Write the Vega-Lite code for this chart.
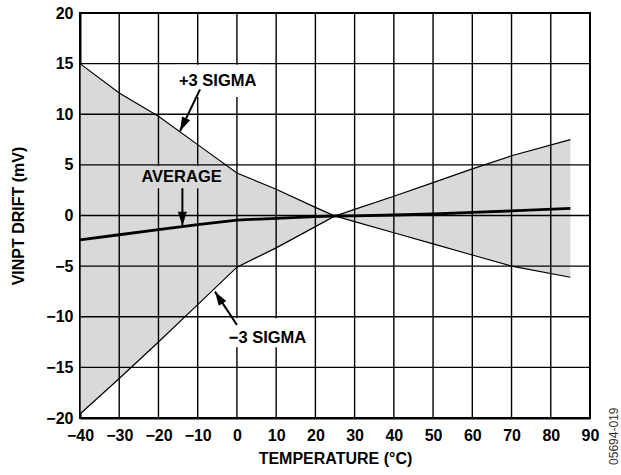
{
  "$schema": "https://vega.github.io/schema/vega-lite/v6.json",
  "width": 510,
  "height": 405,
  "autosize": {"type": "none"},
  "padding": {"left": 80, "top": 13, "right": 31, "bottom": 57},
  "background": "white",
  "config": {
    "view": {"stroke": "#000", "strokeWidth": 2},
    "font": "Liberation Sans",
    "axis": {
      "labelFont": "Liberation Sans",
      "labelFontWeight": "bold",
      "labelFontSize": 16,
      "labelColor": "#000",
      "titleFont": "Liberation Sans",
      "titleFontWeight": "bold",
      "titleFontSize": 16,
      "titleColor": "#000",
      "domainColor": "#000",
      "domainWidth": 2,
      "ticks": false,
      "grid": false,
      "labelFlush": false,
      "labelOverlap": false
    },
    "axisX": {"labelPadding": 9, "titlePadding": 7},
    "axisY": {"labelPadding": 7, "titlePadding": 19}
  },
  "datasets": {
    "series": [
      {"T": -40, "hi": 15.0, "lo": -19.6, "avg": -2.4},
      {"T": -30, "hi": 12.1, "lo": -16.1, "avg": -1.9},
      {"T": -20, "hi": 9.8, "lo": -12.5, "avg": -1.4},
      {"T": -10, "hi": 7.0, "lo": -8.8, "avg": -0.9},
      {"T": 0, "hi": 4.2, "lo": -5.1, "avg": -0.45},
      {"T": 10, "hi": 2.6, "lo": -3.2, "avg": -0.28},
      {"T": 20, "hi": 0.8, "lo": -1.1, "avg": -0.12},
      {"T": 25, "hi": -0.05, "lo": -0.05, "avg": -0.05},
      {"T": 30, "hi": 0.6, "lo": -0.6, "avg": -0.03},
      {"T": 40, "hi": 1.9, "lo": -1.7, "avg": 0.05},
      {"T": 50, "hi": 3.25, "lo": -2.8, "avg": 0.15},
      {"T": 60, "hi": 4.6, "lo": -3.9, "avg": 0.3},
      {"T": 70, "hi": 5.9, "lo": -5.0, "avg": 0.45},
      {"T": 85, "hi": 7.5, "lo": -6.1, "avg": 0.7}
    ],
    "xgrid": [{"g": -40}, {"g": -30}, {"g": -20}, {"g": -10}, {"g": 0}, {"g": 10}, {"g": 20}, {"g": 30}, {"g": 40}, {"g": 50}, {"g": 60}, {"g": 70}, {"g": 80}, {"g": 90}],
    "ygrid": [{"g": -20}, {"g": -15}, {"g": -10}, {"g": -5}, {"g": 0}, {"g": 5}, {"g": 10}, {"g": 15}, {"g": 20}],
    "boxes": [
      {"name": "+3 SIGMA", "x1": -15.8, "x2": 5.9, "y1": 14.9, "y2": 11.7},
      {"name": "AVERAGE", "x1": -25.5, "x2": -2.8, "y1": 4.9, "y2": 2.7},
      {"name": "−3 SIGMA", "x1": -3.0, "x2": 18.6, "y1": -10.15, "y2": -13.0}
    ],
    "labels": [
      {"name": "+3 SIGMA", "T": -4.9, "v": 13.3},
      {"name": "AVERAGE", "T": -14.1, "v": 3.78},
      {"name": "−3 SIGMA", "T": 7.8, "v": -12.05}
    ],
    "arrows": [
      {"name": "+3 SIGMA", "x": -9.4, "y": 12.46, "x2": -14.5, "y2": 8.35},
      {"name": "AVERAGE", "x": -13.9, "y": 2.69, "x2": -13.9, "y2": -1.0},
      {"name": "−3 SIGMA", "x": 0.0, "y": -10.8, "x2": -5.6, "y2": -7.52}
    ],
    "code": [{"text": "05694-019", "T": 96.1, "v": -21.8}]
  },
  "layer": [
    {
      "data": {"name": "series"},
      "mark": {"type": "area", "color": "#d9d9d9", "opacity": 1},
      "encoding": {
        "x": {"field": "T", "type": "quantitative", "scale": {"domain": [-40, 90], "nice": false, "zero": false},
              "axis": {"title": "TEMPERATURE (°C)", "values": [-40, -30, -20, -10, 0, 10, 20, 30, 40, 50, 60, 70, 80, 90], "labelOverlap": false, "labelFlush": false}},
        "y": {"field": "hi", "type": "quantitative", "scale": {"domain": [-20, 20], "nice": false, "zero": false},
              "axis": {"title": "VINPT DRIFT (mV)", "values": [-20, -15, -10, -5, 0, 5, 10, 15, 20], "labelOverlap": false, "labelFlush": false}},
        "y2": {"field": "lo"}
      }
    },
    {
      "data": {"name": "xgrid"},
      "mark": {"type": "rule", "color": "#000", "strokeWidth": 1.4},
      "encoding": {
        "x": {"field": "g", "type": "quantitative", "scale": {"domain": [-40, 90], "nice": false, "zero": false},
              "axis": {"title": "TEMPERATURE (°C)", "values": [-40, -30, -20, -10, 0, 10, 20, 30, 40, 50, 60, 70, 80, 90], "labelOverlap": false, "labelFlush": false}}
      }
    },
    {
      "data": {"name": "ygrid"},
      "mark": {"type": "rule", "color": "#000", "strokeWidth": 1.4},
      "encoding": {
        "y": {"field": "g", "type": "quantitative", "scale": {"domain": [-20, 20], "nice": false, "zero": false},
              "axis": {"title": "VINPT DRIFT (mV)", "values": [-20, -15, -10, -5, 0, 5, 10, 15, 20], "labelOverlap": false, "labelFlush": false}}
      }
    },
    {
      "data": {"name": "boxes"},
      "transform": [{"filter": "datum.name !== 'AVERAGE'"}],
      "mark": {"type": "rect", "color": "#ffffff", "opacity": 1},
      "encoding": {
        "x": {"field": "x1", "type": "quantitative", "scale": {"domain": [-40, 90], "nice": false, "zero": false},
              "axis": {"title": "TEMPERATURE (°C)", "values": [-40, -30, -20, -10, 0, 10, 20, 30, 40, 50, 60, 70, 80, 90], "labelOverlap": false, "labelFlush": false}},
        "x2": {"field": "x2"},
        "y": {"field": "y1", "type": "quantitative", "scale": {"domain": [-20, 20], "nice": false, "zero": false},
              "axis": {"title": "VINPT DRIFT (mV)", "values": [-20, -15, -10, -5, 0, 5, 10, 15, 20], "labelOverlap": false, "labelFlush": false}},
        "y2": {"field": "y2"}
      }
    },
    {
      "data": {"name": "boxes"},
      "transform": [{"filter": "datum.name === 'AVERAGE'"}],
      "mark": {"type": "rect", "color": "#d9d9d9", "opacity": 1},
      "encoding": {
        "x": {"field": "x1", "type": "quantitative", "scale": {"domain": [-40, 90], "nice": false, "zero": false},
              "axis": {"title": "TEMPERATURE (°C)", "values": [-40, -30, -20, -10, 0, 10, 20, 30, 40, 50, 60, 70, 80, 90], "labelOverlap": false, "labelFlush": false}},
        "x2": {"field": "x2"},
        "y": {"field": "y1", "type": "quantitative", "scale": {"domain": [-20, 20], "nice": false, "zero": false},
              "axis": {"title": "VINPT DRIFT (mV)", "values": [-20, -15, -10, -5, 0, 5, 10, 15, 20], "labelOverlap": false, "labelFlush": false}},
        "y2": {"field": "y2"}
      }
    },
    {
      "data": {"name": "series"},
      "mark": {"type": "line", "color": "#000", "strokeWidth": 1.2},
      "encoding": {
        "x": {"field": "T", "type": "quantitative", "scale": {"domain": [-40, 90], "nice": false, "zero": false},
              "axis": {"title": "TEMPERATURE (°C)", "values": [-40, -30, -20, -10, 0, 10, 20, 30, 40, 50, 60, 70, 80, 90], "labelOverlap": false, "labelFlush": false}},
        "y": {"field": "hi", "type": "quantitative", "scale": {"domain": [-20, 20], "nice": false, "zero": false},
              "axis": {"title": "VINPT DRIFT (mV)", "values": [-20, -15, -10, -5, 0, 5, 10, 15, 20], "labelOverlap": false, "labelFlush": false}}
      }
    },
    {
      "data": {"name": "series"},
      "mark": {"type": "line", "color": "#000", "strokeWidth": 1.2},
      "encoding": {
        "x": {"field": "T", "type": "quantitative", "scale": {"domain": [-40, 90], "nice": false, "zero": false},
              "axis": {"title": "TEMPERATURE (°C)", "values": [-40, -30, -20, -10, 0, 10, 20, 30, 40, 50, 60, 70, 80, 90], "labelOverlap": false, "labelFlush": false}},
        "y": {"field": "lo", "type": "quantitative", "scale": {"domain": [-20, 20], "nice": false, "zero": false},
              "axis": {"title": "VINPT DRIFT (mV)", "values": [-20, -15, -10, -5, 0, 5, 10, 15, 20], "labelOverlap": false, "labelFlush": false}}
      }
    },
    {
      "data": {"name": "series"},
      "mark": {"type": "line", "color": "#000", "strokeWidth": 2.8},
      "encoding": {
        "x": {"field": "T", "type": "quantitative", "scale": {"domain": [-40, 90], "nice": false, "zero": false},
              "axis": {"title": "TEMPERATURE (°C)", "values": [-40, -30, -20, -10, 0, 10, 20, 30, 40, 50, 60, 70, 80, 90], "labelOverlap": false, "labelFlush": false}},
        "y": {"field": "avg", "type": "quantitative", "scale": {"domain": [-20, 20], "nice": false, "zero": false},
              "axis": {"title": "VINPT DRIFT (mV)", "values": [-20, -15, -10, -5, 0, 5, 10, 15, 20], "labelOverlap": false, "labelFlush": false}}
      }
    },
    {
      "data": {"name": "arrows"},
      "mark": {"type": "rule", "color": "#000", "strokeWidth": 2},
      "encoding": {
        "x": {"field": "x", "type": "quantitative", "scale": {"domain": [-40, 90], "nice": false, "zero": false},
              "axis": {"title": "TEMPERATURE (°C)", "values": [-40, -30, -20, -10, 0, 10, 20, 30, 40, 50, 60, 70, 80, 90], "labelOverlap": false, "labelFlush": false}},
        "y": {"field": "y", "type": "quantitative", "scale": {"domain": [-20, 20], "nice": false, "zero": false},
              "axis": {"title": "VINPT DRIFT (mV)", "values": [-20, -15, -10, -5, 0, 5, 10, 15, 20], "labelOverlap": false, "labelFlush": false}},
        "x2": {"field": "x2"},
        "y2": {"field": "y2"}
      }
    },
    {
      "data": {"name": "arrows"},
      "transform": [{"filter": "datum.name === '+3 SIGMA'"}],
      "mark": {"type": "point", "shape": "M0,0L-0.32,1L0.32,1Z", "filled": true, "color": "#000", "opacity": 1, "size": 784, "angle": 205.6, "strokeWidth": 0},
      "encoding": {
        "x": {"field": "x2", "type": "quantitative", "scale": {"domain": [-40, 90], "nice": false, "zero": false},
              "axis": {"title": "TEMPERATURE (°C)", "values": [-40, -30, -20, -10, 0, 10, 20, 30, 40, 50, 60, 70, 80, 90], "labelOverlap": false, "labelFlush": false}},
        "y": {"field": "y2", "type": "quantitative", "scale": {"domain": [-20, 20], "nice": false, "zero": false},
              "axis": {"title": "VINPT DRIFT (mV)", "values": [-20, -15, -10, -5, 0, 5, 10, 15, 20], "labelOverlap": false, "labelFlush": false}}
      }
    },
    {
      "data": {"name": "arrows"},
      "transform": [{"filter": "datum.name === 'AVERAGE'"}],
      "mark": {"type": "point", "shape": "M0,0L-0.32,1L0.32,1Z", "filled": true, "color": "#000", "opacity": 1, "size": 784, "angle": 180, "strokeWidth": 0},
      "encoding": {
        "x": {"field": "x2", "type": "quantitative", "scale": {"domain": [-40, 90], "nice": false, "zero": false},
              "axis": {"title": "TEMPERATURE (°C)", "values": [-40, -30, -20, -10, 0, 10, 20, 30, 40, 50, 60, 70, 80, 90], "labelOverlap": false, "labelFlush": false}},
        "y": {"field": "y2", "type": "quantitative", "scale": {"domain": [-20, 20], "nice": false, "zero": false},
              "axis": {"title": "VINPT DRIFT (mV)", "values": [-20, -15, -10, -5, 0, 5, 10, 15, 20], "labelOverlap": false, "labelFlush": false}}
      }
    },
    {
      "data": {"name": "arrows"},
      "transform": [{"filter": "datum.name === '−3 SIGMA'"}],
      "mark": {"type": "point", "shape": "M0,0L-0.32,1L0.32,1Z", "filled": true, "color": "#000", "opacity": 1, "size": 784, "angle": 326.9, "strokeWidth": 0},
      "encoding": {
        "x": {"field": "x2", "type": "quantitative", "scale": {"domain": [-40, 90], "nice": false, "zero": false},
              "axis": {"title": "TEMPERATURE (°C)", "values": [-40, -30, -20, -10, 0, 10, 20, 30, 40, 50, 60, 70, 80, 90], "labelOverlap": false, "labelFlush": false}},
        "y": {"field": "y2", "type": "quantitative", "scale": {"domain": [-20, 20], "nice": false, "zero": false},
              "axis": {"title": "VINPT DRIFT (mV)", "values": [-20, -15, -10, -5, 0, 5, 10, 15, 20], "labelOverlap": false, "labelFlush": false}}
      }
    },
    {
      "data": {"name": "labels"},
      "mark": {"type": "text", "font": "Liberation Sans", "fontWeight": "bold", "fontSize": 16.5, "color": "#000", "align": "center", "baseline": "middle"},
      "encoding": {
        "x": {"field": "T", "type": "quantitative", "scale": {"domain": [-40, 90], "nice": false, "zero": false},
              "axis": {"title": "TEMPERATURE (°C)", "values": [-40, -30, -20, -10, 0, 10, 20, 30, 40, 50, 60, 70, 80, 90], "labelOverlap": false, "labelFlush": false}},
        "y": {"field": "v", "type": "quantitative", "scale": {"domain": [-20, 20], "nice": false, "zero": false},
              "axis": {"title": "VINPT DRIFT (mV)", "values": [-20, -15, -10, -5, 0, 5, 10, 15, 20], "labelOverlap": false, "labelFlush": false}},
        "text": {"field": "name"}
      }
    },
    {
      "data": {"name": "code"},
      "mark": {"type": "text", "font": "Liberation Sans", "fontSize": 12, "color": "#333", "align": "center", "baseline": "middle", "angle": 270},
      "encoding": {
        "x": {"field": "T", "type": "quantitative", "scale": {"domain": [-40, 90], "nice": false, "zero": false},
              "axis": {"title": "TEMPERATURE (°C)", "values": [-40, -30, -20, -10, 0, 10, 20, 30, 40, 50, 60, 70, 80, 90], "labelOverlap": false, "labelFlush": false}},
        "y": {"field": "v", "type": "quantitative", "scale": {"domain": [-20, 20], "nice": false, "zero": false},
              "axis": {"title": "VINPT DRIFT (mV)", "values": [-20, -15, -10, -5, 0, 5, 10, 15, 20], "labelOverlap": false, "labelFlush": false}},
        "text": {"field": "text"}
      }
    }
  ]
}
